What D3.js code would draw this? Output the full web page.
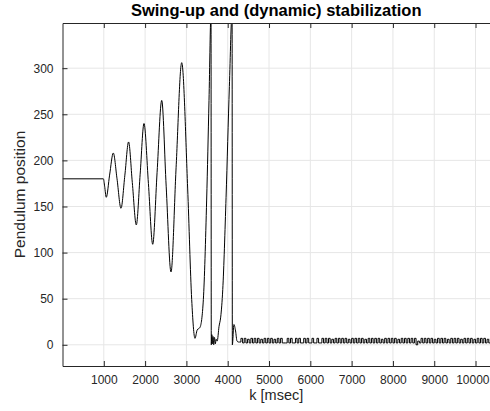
<!DOCTYPE html>
<html>
<head>
<meta charset="utf-8">
<script src="https://cdn.jsdelivr.net/npm/d3@7"></script>
<style>
    body { margin: 0; background: #fff; }
    svg { font-family: "Liberation Sans", Arial, sans-serif; }
</style>
</head>
<body>
<div id="chart"></div>
<script>
// swing-up phase, [k msec, position]
const swingData = [
    [0, 180], [990, 180], [1020, 172], [1060, 160], [1140, 184], [1230, 208],
    [1320, 180], [1416, 148], [1510, 184], [1600, 220], [1690, 176], [1787, 130],
    [1880, 185], [1973, 240], [2080, 175], [2184, 109], [2290, 187], [2402, 265],
    [2510, 172], [2627, 79], [2750, 192], [2886, 306], [3030, 170], [3128, 49],
    [3208, 7], [3260, 16], [3330, 19], [3410, 49], [3490, 157], [3547, 265],
    [3596, 360], [3602, 0], [3615, 11], [3630, 1], [3645, 9], [3660, 0], [3680, 8],
    [3700, 1], [3720, 6], [3745, 4], [3790, 20], [3830, 30], [3880, 60],
    [3960, 160], [4040, 280], [4106, 360], [4112, 0], [4150, 22], [4190, 15],
    [4225, 4], [4260, 3]
];

// stabilization noise, sampled every 40 msec from 4280
const noiseStart = 4280;
const noiseStep = 40;
const noiseValues = [
    3, 7, 2, 7, 2, 6, 2, 7, 2, 7, 2, 7, 2, 6, 2, 7, 2, 7, 2, 7, 2, 6, 2, 7, 2, 7, 2,
    2, 2,
    7, 2, 7, 2, 2, 7, 2, 7, 2,
    2, 7, 2, 7, 2, 2,
    7, 2, 2, 7, 2, 2,
    7, 2, 7, 2, 7, 2, 6, 2, 7, 2, 7, 2, 7, 2, 7, 2, 6, 2, 7, 2, 7, 2, 7, 2, 7, 2,
    6, 2, 7, 2, 7, 2, 7, 2, 7, 2, 6, 2, 7, 2, 7, 2, 7, 2, 7, 2, 6, 2, 7, 2, 7, 2, 7,
    2, 7, 2, 7,
    0,
    4, 2, 7, 2, 7,
    2, 7, 2, 7, 2, 6, 2, 7, 2, 7, 2, 7, 2, 6, 2, 7, 2, 7, 2, 7, 2, 6, 2, 7, 2, 7,
    2, 7, 2, 6, 2, 7, 2, 7, 2, 7, 2, 6, 2, 7, 2, 7
];

const xTicks = [1000, 2000, 3000, 4000, 5000, 6000, 7000, 8000, 9000, 10000];
const yTicks = [0, 50, 100, 150, 200, 250, 300];

const W = 490, H = 411;
const margin = {top: 23, right: 0, bottom: 45, left: 62.5};
const width = W - margin.left - margin.right;
const height = H - margin.top - margin.bottom;

const svg = d3.select("#chart").append("svg")
    .attr("width", W)
    .attr("height", H);

const g = svg.append("g")
    .attr("transform", "translate(" + margin.left + "," + margin.top + ")");

const x = d3.scaleLinear().domain([0, 10350]).range([0, width]);
const y = d3.scaleLinear().domain([-23, 349]).range([height, 0]);

// grid
g.append("g").selectAll("line")
    .data(xTicks).enter().append("line")
    .attr("x1", d => x(d)).attr("x2", d => x(d))
    .attr("y1", 0).attr("y2", height)
    .attr("stroke", "#e6e6e6");

g.append("g").selectAll("line")
    .data(yTicks).enter().append("line")
    .attr("x1", 0).attr("x2", width)
    .attr("y1", d => y(d)).attr("y2", d => y(d))
    .attr("stroke", "#e6e6e6");

g.append("clipPath")
    .attr("id", "clip")
    .append("rect")
    .attr("width", width)
    .attr("height", height);

const line = d3.line()
    .x(d => x(d[0]))
    .y(d => y(d[1]))
    .curve(d3.curveMonotoneX);

g.append("path")
    .attr("clip-path", "url(#clip)")
    .attr("fill", "none")
    .attr("stroke", "#000")
    .attr("stroke-width", 1)
    .attr("d", line(swingData));

const last = swingData[swingData.length - 1];
const noiseData = [last].concat(noiseValues.map((v, i) => [noiseStart + i * noiseStep, v]));

g.append("path")
    .attr("clip-path", "url(#clip)")
    .attr("fill", "none")
    .attr("stroke", "#000")
    .attr("stroke-width", 1)
    .attr("d", d3.line().x(d => x(d[0])).y(d => y(d[1])).curve(d3.curveStepAfter)(noiseData));

// axes
const axisColor = "#262626";

const xAxis = g.append("g")
    .attr("transform", "translate(0," + height + ")")
    .call(d3.axisBottom(x).tickValues(xTicks).tickFormat(d3.format("d"))
        .tickSizeInner(-5).tickSizeOuter(0).tickPadding(9));

const xTop = g.append("g")
    .call(d3.axisTop(x).tickValues(xTicks).tickSizeInner(-5).tickSizeOuter(0).tickFormat(""));

const yAxis = g.append("g")
    .call(d3.axisLeft(y).tickValues(yTicks).tickSizeInner(-5).tickSizeOuter(0).tickPadding(9));

[xAxis, xTop, yAxis].forEach(a => {
    a.select(".domain").attr("stroke", axisColor).attr("stroke-width", 1);
    a.selectAll(".tick line").attr("stroke", axisColor);
    a.selectAll(".tick text")
        .attr("fill", "#262626")
        .style("font-size", "12px")
        .style("font-family", "'Liberation Sans', Arial, sans-serif");
});

// last label sits against the right edge of the figure
xAxis.selectAll(".tick")
    .filter(d => d === 10000)
    .select("text")
    .attr("text-anchor", "end")
    .attr("x", width - x(10000) - 1);

// labels
svg.append("text")
    .attr("x", margin.left + width / 2)
    .attr("y", 16)
    .attr("text-anchor", "middle")
    .style("font-size", "16.5px")
    .style("font-weight", "bold")
    .attr("fill", "#000")
    .text("Swing-up and (dynamic) stabilization");

svg.append("text")
    .attr("x", margin.left + width / 2)
    .attr("y", 400)
    .attr("text-anchor", "middle")
    .style("font-size", "14.5px")
    .attr("fill", "#262626")
    .text("k [msec]");

svg.append("text")
    .attr("transform", "translate(25," + (margin.top + height / 2) + ") rotate(-90)")
    .attr("text-anchor", "middle")
    .style("font-size", "15.5px")
    .attr("fill", "#262626")
    .text("Pendulum position");
</script>
</body>
</html>
